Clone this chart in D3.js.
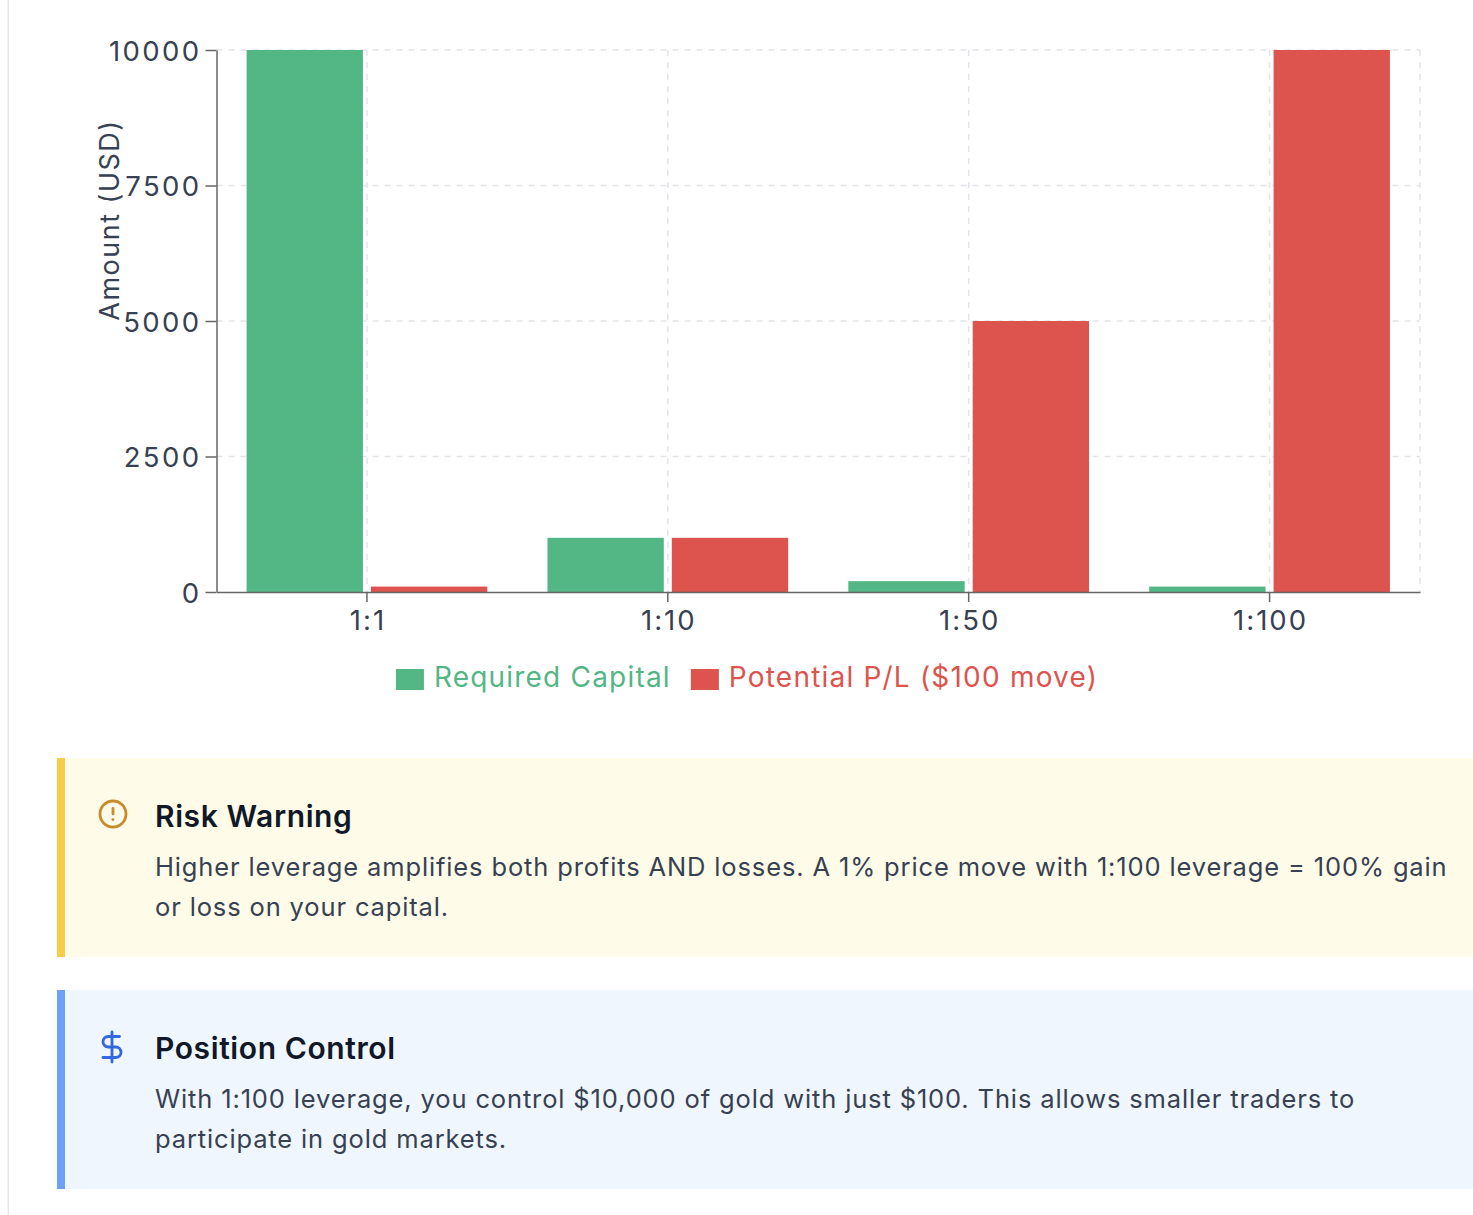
<!DOCTYPE html>
<html>
<head>
<meta charset="utf-8">
<script src="https://cdn.jsdelivr.net/npm/d3@7/dist/d3.min.js"></script>
<style>
  html, body { margin: 0; padding: 0; background: #ffffff; }
  body { width: 1473px; height: 1215px; overflow: hidden; font-family: Inter, "Noto Sans", sans-serif; }
  svg { display: block; }
</style>
</head>
<body>
<svg id="page" width="1473" height="1215"></svg>
<script>
// ---- data ----
const categories = ["1:1", "1:10", "1:50", "1:100"];
const seriesNames = ["Required Capital", "Potential P/L ($100 move)"];
const requiredCapital = [10000, 1000, 200, 100];
const potentialPL = [100, 1000, 5000, 10000];
const yTicks = [0, 2500, 5000, 7500, 10000];
const seriesColors = ["#53b685", "#dd534e"];
const yLabel = "Amount (USD)";

const warningTitle = "Risk Warning";
const warningLines = [
  "Higher leverage amplifies both profits AND losses. A 1% price move with 1:100 leverage = 100% gain",
  "or loss on your capital."
];
const controlTitle = "Position Control";
const controlLines = [
  "With 1:100 leverage, you control $10,000 of gold with just $100. This allows smaller traders to",
  "participate in gold markets."
];

(function () {
const seriesValues = [requiredCapital, potentialPL];
const rows = categories.map((c, i) => ({
  cat: c,
  vals: seriesNames.map((s, j) => ({ key: s, value: seriesValues[j][i], color: seriesColors[j] }))
}));

const svg = d3.select("#page");
const FONT = "Inter, 'Noto Sans', sans-serif";

// left page border
svg.append("rect").attr("x", 7.5).attr("y", 0).attr("width", 1.5).attr("height", 1215).attr("fill", "#e5e7eb");

// ---- chart ----
const pL = 216.5, pR = 1420, pT = 50, pB = 592;
const x0 = d3.scaleBand().domain(categories).range([pL, pR]).padding(0);
const bw = x0.bandwidth();
const x1 = d3.scaleBand().domain(seriesNames).range([bw * 0.1, bw * 0.9]).paddingInner(8 / 124).paddingOuter(0);
const y = d3.scaleLinear().domain([0, 10000]).range([pB, pT]);

const grid = svg.append("g").attr("stroke", "#e3e4ea").attr("stroke-width", 1.5).attr("stroke-dasharray", "6 6");
grid.selectAll("line.h").data(yTicks.filter(t => t > 0)).join("line").attr("class", "h")
  .attr("x1", pL).attr("x2", pR).attr("y1", d => y(d)).attr("y2", d => y(d));
grid.selectAll("line.v").data(categories).join("line").attr("class", "v")
  .attr("x1", d => x0(d) + bw / 2).attr("x2", d => x0(d) + bw / 2).attr("y1", pT).attr("y2", pB);
grid.append("line").attr("x1", pR).attr("x2", pR).attr("y1", pT).attr("y2", pB);

// bars
const groups = svg.append("g").selectAll("g").data(rows).join("g")
  .attr("transform", d => `translate(${x0(d.cat)},0)`);
groups.selectAll("rect").data(d => d.vals).join("rect")
  .attr("x", d => x1(d.key))
  .attr("width", x1.bandwidth())
  .attr("y", d => y(d.value))
  .attr("height", d => y(0) - y(d.value))
  .attr("fill", d => d.color);

// axes
const yAxis = svg.append("g").attr("transform", `translate(${pL},0)`)
  .call(d3.axisLeft(y).tickValues(yTicks).tickSize(11).tickSizeOuter(0).tickPadding(4).tickFormat(d3.format("d")));
const xAxis = svg.append("g").attr("transform", `translate(0,${pB})`)
  .call(d3.axisBottom(x0).tickSize(10).tickSizeOuter(0).tickPadding(6));
[yAxis, xAxis].forEach(a => {
  a.select(".domain").attr("stroke", "#666").attr("stroke-width", 1.5);
  a.selectAll(".tick line").attr("stroke", "#666").attr("stroke-width", 1.5);
  a.selectAll(".tick text").attr("fill", "#374151").attr("font-size", 27.5)
    .attr("font-family", FONT).attr("letter-spacing", "2.4px");
});
yAxis.selectAll(".tick text").attr("dy", "0.38em");
xAxis.selectAll(".tick text").attr("dy", "0.8em").attr("letter-spacing", "2px").attr("dx", "1px");

// y label
svg.append("text")
  .attr("transform", `translate(119,${(pT + pB) / 2 - 101}) rotate(-90)`)
  .attr("text-anchor", "middle")
  .attr("font-size", 27).attr("font-family", FONT).attr("fill", "#374151")
  .attr("letter-spacing", "1.5px")
  .text(yLabel);

// legend
const legend = svg.append("g");
const items = legend.selectAll("g").data(seriesNames).join("g");
items.append("rect").attr("width", 28).attr("height", 21).attr("y", 669)
  .attr("fill", (d, i) => seriesColors[i]);
items.append("text").attr("x", 38).attr("y", 687)
  .attr("font-size", 28).attr("font-family", FONT).attr("letter-spacing", "1.2px")
  .attr("fill", (d, i) => seriesColors[i]).text(d => d);
const widths = [];
items.each(function () {
  widths.push(38 + d3.select(this).select("text").node().getComputedTextLength());
});
const gap = 20;
const total = d3.sum(widths) + gap * (widths.length - 1);
let cursor = 747 - total / 2;
items.attr("transform", (d, i) => {
  const t = `translate(${cursor},0)`;
  cursor += widths[i] + gap;
  return t;
});

// ---- info boxes ----
function infoBox(yTop, bg, barColor, title, lines, iconFn) {
  const g = svg.append("g");
  g.append("rect").attr("x", 57).attr("y", yTop).attr("width", 1473 - 57).attr("height", 199).attr("fill", bg);
  g.append("rect").attr("x", 57).attr("y", yTop).attr("width", 8).attr("height", 199).attr("fill", barColor);
  iconFn(g, yTop);
  g.append("text").attr("x", 155).attr("y", yTop + 69)
    .attr("font-size", 30).attr("font-weight", 600).attr("font-family", FONT).attr("fill", "#111827")
    .attr("letter-spacing", "0.6px")
    .text(title);
  g.selectAll("text.body").data(lines).join("text").attr("class", "body")
    .attr("x", 155).attr("y", (d, i) => yTop + 118 + i * 40)
    .attr("font-size", 25.5).attr("font-family", FONT).attr("fill", "#374151")
    .attr("letter-spacing", "0.86px")
    .text(d => d);
}

infoBox(758, "#fefce9", "#f5cd4a", warningTitle, warningLines, (g, yTop) => {
  const ic = g.append("g").attr("transform", `translate(${113 - 16.8},${yTop + 56 - 16.8}) scale(1.4)`)
    .attr("fill", "none").attr("stroke", "#c98a2b").attr("stroke-width", 2).attr("stroke-linecap", "round");
  ic.append("circle").attr("cx", 12).attr("cy", 12).attr("r", 9.3);
  ic.append("line").attr("x1", 12).attr("x2", 12).attr("y1", 8).attr("y2", 12);
  ic.append("line").attr("x1", 12).attr("x2", 12.01).attr("y1", 16).attr("y2", 16);
});

infoBox(990, "#eff6fe", "#6ea0f5", controlTitle, controlLines, (g, yTop) => {
  const ic = g.append("g").attr("transform", `translate(${113 - 19},${yTop + 57 - 18}) scale(1.5)`)
    .attr("fill", "none").attr("stroke", "#3466e0").attr("stroke-width", 1.9)
    .attr("stroke-linecap", "round").attr("stroke-linejoin", "round");
  ic.append("line").attr("x1", 12).attr("x2", 12).attr("y1", 2).attr("y2", 22);
  ic.append("path").attr("d", "M17 5H9.5a3.5 3.5 0 0 0 0 7h5a3.5 3.5 0 0 1 0 7H6");
});
})();
</script>
</body>
</html>
